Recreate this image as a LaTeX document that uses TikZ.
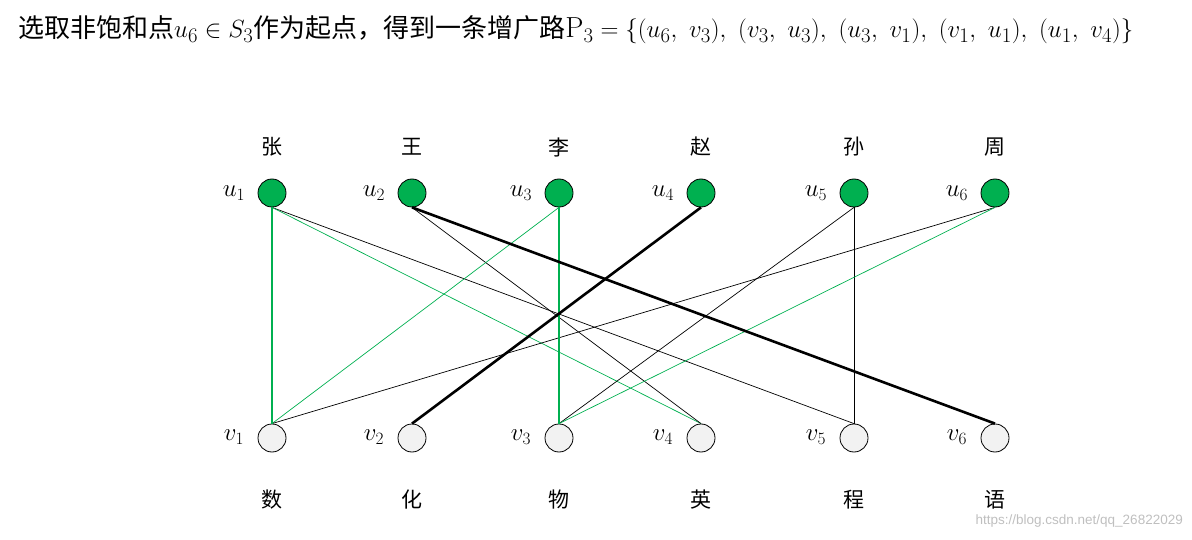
\documentclass[tikz,border=0pt]{standalone}
\usepackage{fontspec}
\newfontfamily\cjk{Noto Sans CJK SC}
\newfontfamily\wmfont{Liberation Sans}
\definecolor{offgreen}{HTML}{00B050}
\definecolor{vfill}{HTML}{F2F2F2}
\newcommand{\titlemath}[1]{{\fontsize{29}{32}\selectfont$#1$}}
\newcommand{\cs}{,\mkern5.5mu}
\begin{document}
\begin{tikzpicture}[x=1pt,y=-1pt,
  unode/.style={circle,draw=black,line width=0.8pt,fill=offgreen,minimum size=28pt,inner sep=0pt},
  vnode/.style={circle,draw=black,line width=0.8pt,fill=vfill,minimum size=28pt,inner sep=0pt},
  lab/.style={font=\fontsize{27}{30}\selectfont,inner sep=0pt},
  cname/.style={font=\cjk\fontsize{21}{24}\selectfont,inner sep=0pt},
  thinb/.style={draw=black,line width=0.7pt},
  thing/.style={draw=offgreen,line width=0.7pt},
  thickb/.style={draw=black,line width=2.6pt},
  thickg/.style={draw=offgreen,line width=2.6pt}]
\useasboundingbox (0,0) rectangle (1192,540);
\node[anchor=west,inner sep=0pt,font=\cjk\fontsize{26}{30}\selectfont] (title) at (18,30)
  {选取非饱和点\titlemath{u_6\in S_3}作为起点，得到一条增广路\titlemath{\mathrm{P}_3=\{(u_6\cs v_3)\cs(v_3\cs u_3)\cs(u_3\cs v_1)\cs(v_1\cs u_1)\cs(u_1\cs v_4)\}}};
\foreach \i/\x/\n/\s in {1/272/张/数,2/412/王/化,3/559/李/物,4/701/赵/英,5/854/孙/程,6/995/周/语}{
  \node[unode] (u\i) at (\x,193) {};
  \node[vnode] (v\i) at (\x,438) {};
  \node[lab] (lu\i) at (\x-38,193) {$u_{\i}$};
  \node[lab] (lv\i) at (\x-38,437) {$v_{\i}$};
  \node[cname] (nu\i) at (\x,147) {\n};
  \node[cname] (nv\i) at (\x,500) {\s};
}
\draw[thinb] (u1.south) -- (v5.north);
\draw[thing] (u1.south) -- (v4.north);
\draw[thinb] (u2.south) -- (v4.north);
\draw[thing] (u3.south) -- (v1.north);
\draw[thinb] (u5.south) -- (v3.north);
\draw[thinb] (u5.south) -- (v5.north);
\draw[thinb] (u6.south) -- (v1.north);
\draw[thing] (u6.south) -- (v3.north);
\draw[thickg] (u1.south) -- (v1.north);
\draw[thickg] (u3.south) -- (v3.north);
\draw[thickb] (u2.south) -- (v6.north);
\draw[thickb] (u4.south) -- (v2.north);
\node[anchor=east,inner sep=0pt,text=black!25,font=\wmfont\fontsize{13.5}{15}\selectfont] (wm) at (1183,521) {https://blog.csdn.net/qq\_26822029};
\end{tikzpicture}
\end{document}
